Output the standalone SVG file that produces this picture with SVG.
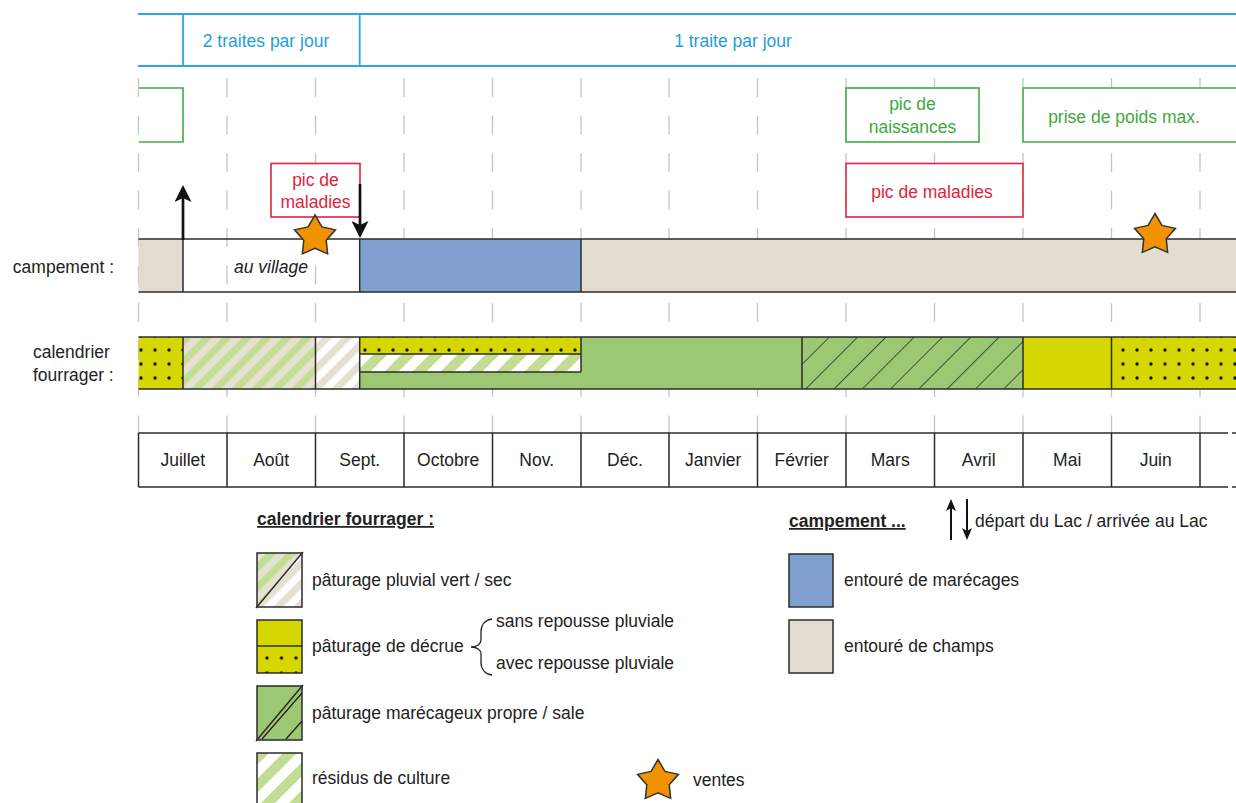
<svg xmlns="http://www.w3.org/2000/svg" width="1236" height="803" viewBox="0 0 1236 803">
<style>
text{font-family:"Liberation Sans",Arial,sans-serif;font-size:17.5px;fill:#222}
.c{text-anchor:middle}
.blue{fill:#1f9ed9}
.grn{fill:#3ea93a}
.red{fill:#e0233c}
.tick{stroke:#c4c4c4;stroke-width:1.3;stroke-dasharray:19 18.5}
.bl{stroke:#2aa9e0;stroke-width:1.8;fill:none}
.edge{stroke:#2b2b2b;stroke-width:1.5;fill:none}
.gbox{fill:#fff;stroke:#45aa41;stroke-width:1.6}
.rbox{fill:#fff;stroke:#e0233c;stroke-width:1.6}
.star{fill:#f39200;stroke:#333;stroke-width:1.5}
.arr{stroke:#111;stroke-width:2.7;fill:none}
.arrs{stroke:#111;stroke-width:2;fill:none}
.lg{font-weight:bold;text-decoration:underline}
.yel{fill:#d6d700}
.sw{fill:#9dc873}
.bleu{fill:#7f9fcf}
.tan{fill:#e3ddd0}
</style>
<defs>
<pattern id="pGreenBeige" width="14.14" height="14.14" patternUnits="userSpaceOnUse" patternTransform="rotate(45)"><rect width="14.14" height="14.14" fill="#e6e1d3"/><rect width="7.07" height="14.14" fill="#c4dd95"/></pattern>
<pattern id="pBeigeWhite" width="14.14" height="14.14" patternUnits="userSpaceOnUse" patternTransform="rotate(45)"><rect width="14.14" height="14.14" fill="#ffffff"/><rect width="7.07" height="14.14" fill="#e6e0d2"/></pattern>
<pattern id="pGreenWhite" width="19.8" height="19.8" patternUnits="userSpaceOnUse" patternTransform="rotate(45)"><rect width="19.8" height="19.8" fill="#ffffff"/><rect width="9.9" height="19.8" fill="#c4dd95"/></pattern>
<pattern id="pHatch" width="20" height="20" patternUnits="userSpaceOnUse" patternTransform="translate(805 389) rotate(45)"><rect width="20" height="20" fill="#9dc873"/><line x1="0" y1="0" x2="0" y2="20" stroke="#1a1a1a" stroke-width="1.4"/></pattern>
<pattern id="pDots" x="134" y="343" width="14" height="14" patternUnits="userSpaceOnUse"><rect width="14" height="14" fill="#d6d700"/><circle cx="7" cy="7" r="1.7" fill="#111"/></pattern>
<pattern id="pDots2" x="1116" y="343" width="14" height="14" patternUnits="userSpaceOnUse"><rect width="14" height="14" fill="#d6d700"/><circle cx="7" cy="7" r="1.7" fill="#111"/></pattern>
<pattern id="pDotsL" x="260" y="651" width="14.5" height="15" patternUnits="userSpaceOnUse"><rect width="14.5" height="15" fill="#d6d700"/><circle cx="7" cy="7" r="1.7" fill="#111"/></pattern>
<polygon id="star" points="0,-21.5 6.94,-9.55 20.45,-6.64 11.22,3.65 12.64,17.39 0,11.8 -12.64,17.39 -11.22,3.65 -20.45,-6.64 -6.94,-9.55"/>
<marker id="ah" viewBox="0 0 17 17" refX="13" refY="8.5" markerWidth="17" markerHeight="17" markerUnits="userSpaceOnUse" orient="auto"><path d="M0,0 L17,8.5 L0,17 L4,8.5 Z" fill="#111"/></marker>
<marker id="ahs" viewBox="0 0 12 10" refX="9" refY="5" markerWidth="12" markerHeight="10" markerUnits="userSpaceOnUse" orient="auto"><path d="M0,0 L12,5 L0,10 L3,5 Z" fill="#111"/></marker>
</defs>
<rect width="1236" height="803" fill="#fff"/>

<g id="grid">
<line class="tick" x1="138.5" y1="78" x2="138.5" y2="433"/>
<line class="tick" x1="227" y1="78" x2="227" y2="433"/>
<line class="tick" x1="315.5" y1="78" x2="315.5" y2="433"/>
<line class="tick" x1="404" y1="78" x2="404" y2="433"/>
<line class="tick" x1="492.5" y1="78" x2="492.5" y2="433"/>
<line class="tick" x1="581" y1="78" x2="581" y2="433"/>
<line class="tick" x1="669" y1="78" x2="669" y2="433"/>
<line class="tick" x1="757.5" y1="78" x2="757.5" y2="433"/>
<line class="tick" x1="846" y1="78" x2="846" y2="433"/>
<line class="tick" x1="934.5" y1="78" x2="934.5" y2="433"/>
<line class="tick" x1="1023" y1="78" x2="1023" y2="433"/>
<line class="tick" x1="1111.5" y1="78" x2="1111.5" y2="433"/>
<line class="tick" x1="1200" y1="78" x2="1200" y2="433"/>
</g>

<g id="traites">
<line class="bl" x1="138" y1="14" x2="1236" y2="14"/>
<line class="bl" x1="138" y1="66" x2="1236" y2="66"/>
<line class="bl" x1="183" y1="14" x2="183" y2="66"/>
<line class="bl" x1="359.7" y1="14" x2="359.7" y2="66"/>
<text class="c blue" x="266" y="47">2 traites par jour</text>
<text class="c blue" x="733" y="47">1 traite par jour</text>
</g>

<g id="box-green-left"><path class="gbox" d="M139 88 H183 V142 H139"/></g>
<g id="box-naissances"><rect class="gbox" x="846" y="88" width="133" height="54"/>
<text class="c grn" x="912.5" y="110">pic de</text><text class="c grn" x="912.5" y="133">naissances</text></g>
<g id="box-poids"><path class="gbox" d="M1240 88 H1023 V142 H1240"/>
<text class="c grn" x="1124" y="123">prise de poids max.</text></g>
<g id="box-maladies-right"><rect class="rbox" x="846" y="163.5" width="177" height="53.5"/>
<text class="c red" x="932" y="198">pic de maladies</text></g>
<g id="box-maladies-left"><rect class="rbox" x="271" y="163.5" width="89" height="53.5"/>
<text class="c red" x="315.5" y="186">pic de</text><text class="c red" x="315.5" y="208">maladies</text></g>

<g id="campement">
<text x="114" y="273" text-anchor="end">campement :</text>
<rect class="tan" x="138.5" y="239" width="44.5" height="53"/>
<rect class="bleu" x="359.7" y="239" width="221.3" height="53"/>
<rect class="tan" x="581" y="239" width="660" height="53"/>
<line class="edge" x1="138.5" y1="239" x2="1240" y2="239"/>
<line class="edge" x1="138.5" y1="292" x2="1240" y2="292"/>
<line class="edge" x1="183" y1="239" x2="183" y2="292"/>
<line class="edge" x1="359.7" y1="239" x2="359.7" y2="292"/>
<line class="edge" x1="581" y1="239" x2="581" y2="292"/>
<text class="c" x="271" y="273" font-style="italic">au village</text>
</g>

<g id="fourrager">
<text x="33" y="358">calendrier</text>
<text x="33" y="381">fourrager :</text>
<rect x="138.5" y="337" width="44.5" height="52" fill="url(#pDots)"/>
<rect x="183" y="337" width="132.5" height="52" fill="url(#pGreenBeige)"/>
<rect x="315.5" y="337" width="44.2" height="52" fill="url(#pBeigeWhite)"/>
<rect x="359.7" y="337" width="442.3" height="52" class="sw"/>
<rect x="359.7" y="337" width="221.3" height="17" fill="url(#pDots)"/>
<rect x="359.7" y="354" width="221.3" height="18" fill="url(#pGreenWhite)"/>
<rect x="802" y="337" width="221" height="52" fill="url(#pHatch)"/>
<rect x="1023" y="337" width="88.5" height="52" class="yel"/>
<rect x="1111.5" y="337" width="130" height="52" fill="url(#pDots2)"/>
<line class="edge" x1="138.5" y1="337" x2="1240" y2="337"/>
<line class="edge" x1="138.5" y1="389" x2="1240" y2="389"/>
<line class="edge" x1="359.7" y1="354" x2="581" y2="354"/>
<line class="edge" x1="359.7" y1="372" x2="581" y2="372"/>
<line class="edge" x1="183" y1="337" x2="183" y2="389"/>
<line class="edge" x1="315.5" y1="337" x2="315.5" y2="389"/>
<line class="edge" x1="359.7" y1="337" x2="359.7" y2="389"/>
<line class="edge" x1="581" y1="337" x2="581" y2="372"/>
<line class="edge" x1="802" y1="337" x2="802" y2="389"/>
<line class="edge" x1="1023" y1="337" x2="1023" y2="389"/>
<line class="edge" x1="1111.5" y1="337" x2="1111.5" y2="389"/>
</g>

<g id="mois">
<line class="edge" x1="138.5" y1="433" x2="1228" y2="433"/>
<line class="edge" x1="138.5" y1="487" x2="1228" y2="487"/>
<line class="edge" x1="1232" y1="433" x2="1236" y2="433"/>
<line class="edge" x1="1232" y1="487" x2="1236" y2="487"/>
<path class="edge" d="M138.5 433V487M227 433V487M315.5 433V487M404 433V487M492.5 433V487M581 433V487M669 433V487M757.5 433V487M846 433V487M934.5 433V487M1023 433V487M1111.5 433V487M1200 433V487"/>
<text class="c" x="182.8" y="466">Juillet</text>
<text class="c" x="271.2" y="466">Août</text>
<text class="c" x="359.7" y="466">Sept.</text>
<text class="c" x="448.2" y="466">Octobre</text>
<text class="c" x="536.7" y="466">Nov.</text>
<text class="c" x="625" y="466">Déc.</text>
<text class="c" x="713.2" y="466">Janvier</text>
<text class="c" x="801.7" y="466">Février</text>
<text class="c" x="890.2" y="466">Mars</text>
<text class="c" x="978.7" y="466">Avril</text>
<text class="c" x="1067.2" y="466">Mai</text>
<text class="c" x="1155.7" y="466">Juin</text>
</g>

<g id="ventes">
<use href="#star" class="star" x="315" y="236.5"/>
<use href="#star" class="star" x="1155" y="235"/>
</g>

<g id="connectors">
<line class="arr" x1="183" y1="240" x2="183" y2="189" marker-end="url(#ah)"/>
<line class="arr" x1="360" y1="184" x2="360" y2="234" marker-end="url(#ah)"/>
</g>

<g id="legende-fourrager">
<text class="lg" x="257" y="525">calendrier fourrager :</text>
<polygon points="257,553 302,553 257,607" fill="url(#pGreenBeige)"/>
<polygon points="302,553 302,607 257,607" fill="url(#pBeigeWhite)"/>
<rect class="edge" x="257" y="553" width="45" height="54"/>
<line class="edge" x1="256" y1="608" x2="303" y2="552"/>
<text x="312" y="586">pâturage pluvial vert / sec</text>

<rect class="yel" x="257" y="620" width="45" height="26"/>
<rect x="257" y="646" width="45" height="27" fill="url(#pDotsL)"/>
<rect class="edge" x="257" y="620" width="45" height="53"/>
<line class="edge" x1="257" y1="646" x2="302" y2="646"/>
<text x="312" y="652">pâturage de décrue</text>
<path d="M492 619 C485 620 481 625 481 632 L481 640 C481 644 477 647 471 647 C477 647 481 650 481 654 L481 662 C481 669 485 674 492 675" fill="none" stroke="#222" stroke-width="1.3"/>
<text x="496" y="627">sans repousse pluviale</text>
<text x="496" y="669">avec repousse pluviale</text>

<rect class="edge" x="257" y="686" width="45" height="54" style="fill:#9dc873"/>
<line class="edge" x1="256" y1="741" x2="303" y2="685"/>
<line x1="262" y1="739" x2="302" y2="693" stroke="#1a1a1a" stroke-width="1.2"/>
<line x1="286" y1="739" x2="302" y2="721" stroke="#1a1a1a" stroke-width="1.2"/>
<text x="312" y="719">pâturage marécageux propre / sale</text>

<rect x="257" y="753" width="45" height="60" fill="url(#pGreenWhite)"/>
<rect class="edge" x="257" y="753" width="45" height="60"/>
<text x="312" y="784">résidus de culture</text>

<use href="#star" class="star" x="658" y="781"/>
<text x="693" y="786">ventes</text>
</g>

<g id="legende-campement">
<text class="lg" x="789" y="527">campement ...</text>
<line class="arrs" x1="951" y1="540" x2="951" y2="502" marker-end="url(#ahs)"/>
<line class="arrs" x1="967" y1="499" x2="967" y2="537" marker-end="url(#ahs)"/>
<text x="975" y="527">départ du Lac / arrivée au Lac</text>
<rect class="edge" x="789" y="554" width="44" height="53" style="fill:#7f9fcf"/>
<text x="844" y="586">entouré de marécages</text>
<rect class="edge" x="789" y="620" width="44" height="53" style="fill:#e3ddd0"/>
<text x="844" y="652">entouré de champs</text>
</g>
</svg>
